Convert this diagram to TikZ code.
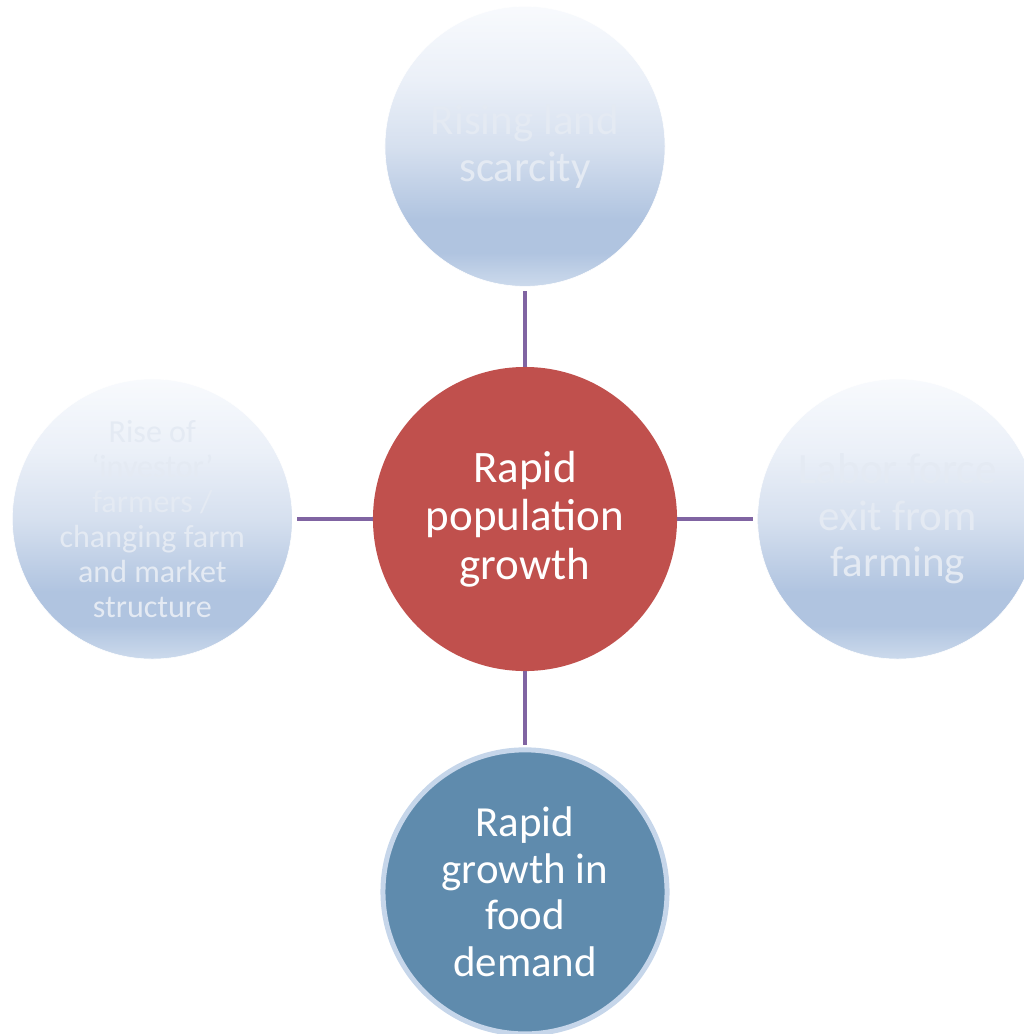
\documentclass[tikz,border=0pt]{standalone}
\usepackage{fontspec}
\setmainfont{Carlito}
\usetikzlibrary{positioning}
\definecolor{midred}{HTML}{C0504D}
\definecolor{demandblue}{HTML}{5F8BAD}
\definecolor{demandring}{HTML}{C6D6EA}
\definecolor{linkpurple}{HTML}{8064A2}
\definecolor{bubbletop}{HTML}{F8FAFD}
\definecolor{bubblepale}{HTML}{EBF0F8}
\definecolor{bubblemid}{HTML}{D6E0EF}
\definecolor{bubbledark}{HTML}{B0C4E0}
\definecolor{bubblelow}{HTML}{CCDAEC}
\definecolor{bubbletext}{HTML}{E4EAF3}
\pgfdeclareverticalshading{bubbleshade}{100bp}{color(0bp)=(bubblelow); color(25bp)=(bubblelow); color(31bp)=(bubbledark); color(37bp)=(bubbledark); color(50bp)=(bubblemid); color(62bp)=(bubblepale); color(75bp)=(bubbletop); color(100bp)=(bubbletop)}
\tikzset{
  bubble/.style={circle, minimum size=7cm, inner sep=0pt, shading=bubbleshade, draw=white, thin,
    text=bubbletext, align=center, font=\fontsize{30.6}{33.2}\selectfont},
  smalltext/.style={font=\fontsize{22.8}{24.9}\selectfont},
  hub/.style={circle, minimum size=7.6cm, inner sep=0pt, fill=midred, text=white, align=center,
    font=\fontsize{32}{34.5}\selectfont},
  demand/.style={circle, minimum size=7.1cm, inner sep=0pt, fill=demandblue, draw=demandring,
    line width=0.125cm, text=white, align=center, font=\fontsize{30.5}{33.2}\selectfont},
  link/.style={linkpurple, line width=0.1cm}
}
\begin{document}
\begin{tikzpicture}[x=0.025cm,y=-0.025cm]
\useasboundingbox (0,0) rectangle (1024,1034);
\node[hub] (pop) at (525,519) {Rapid\\population\\growth};
\node[bubble, above=2cm of pop] (land) {Rising land\\scarcity};
\node[bubble, left=2cm of pop] (investor) {};
\node[bubble, right=2cm of pop] (labor) {Labor force\\exit from\\farming};
\node[smalltext, text=bubbletext, align=center] at (investor) {Rise of\\‘investor’\\farmers /\\changing farm\\and market\\structure};
\node[demand, below=1.9cm of pop] (food) {Rapid\\growth in\\food\\demand};
\draw[link, shorten >=0.12cm] (pop) -- (land);
\draw[link, shorten >=0.12cm] (pop) -- (investor);
\draw[link, shorten >=0.12cm] (pop) -- (labor);
\draw[link, shorten >=0.05cm] (pop) -- (food);
\end{tikzpicture}
\end{document}
